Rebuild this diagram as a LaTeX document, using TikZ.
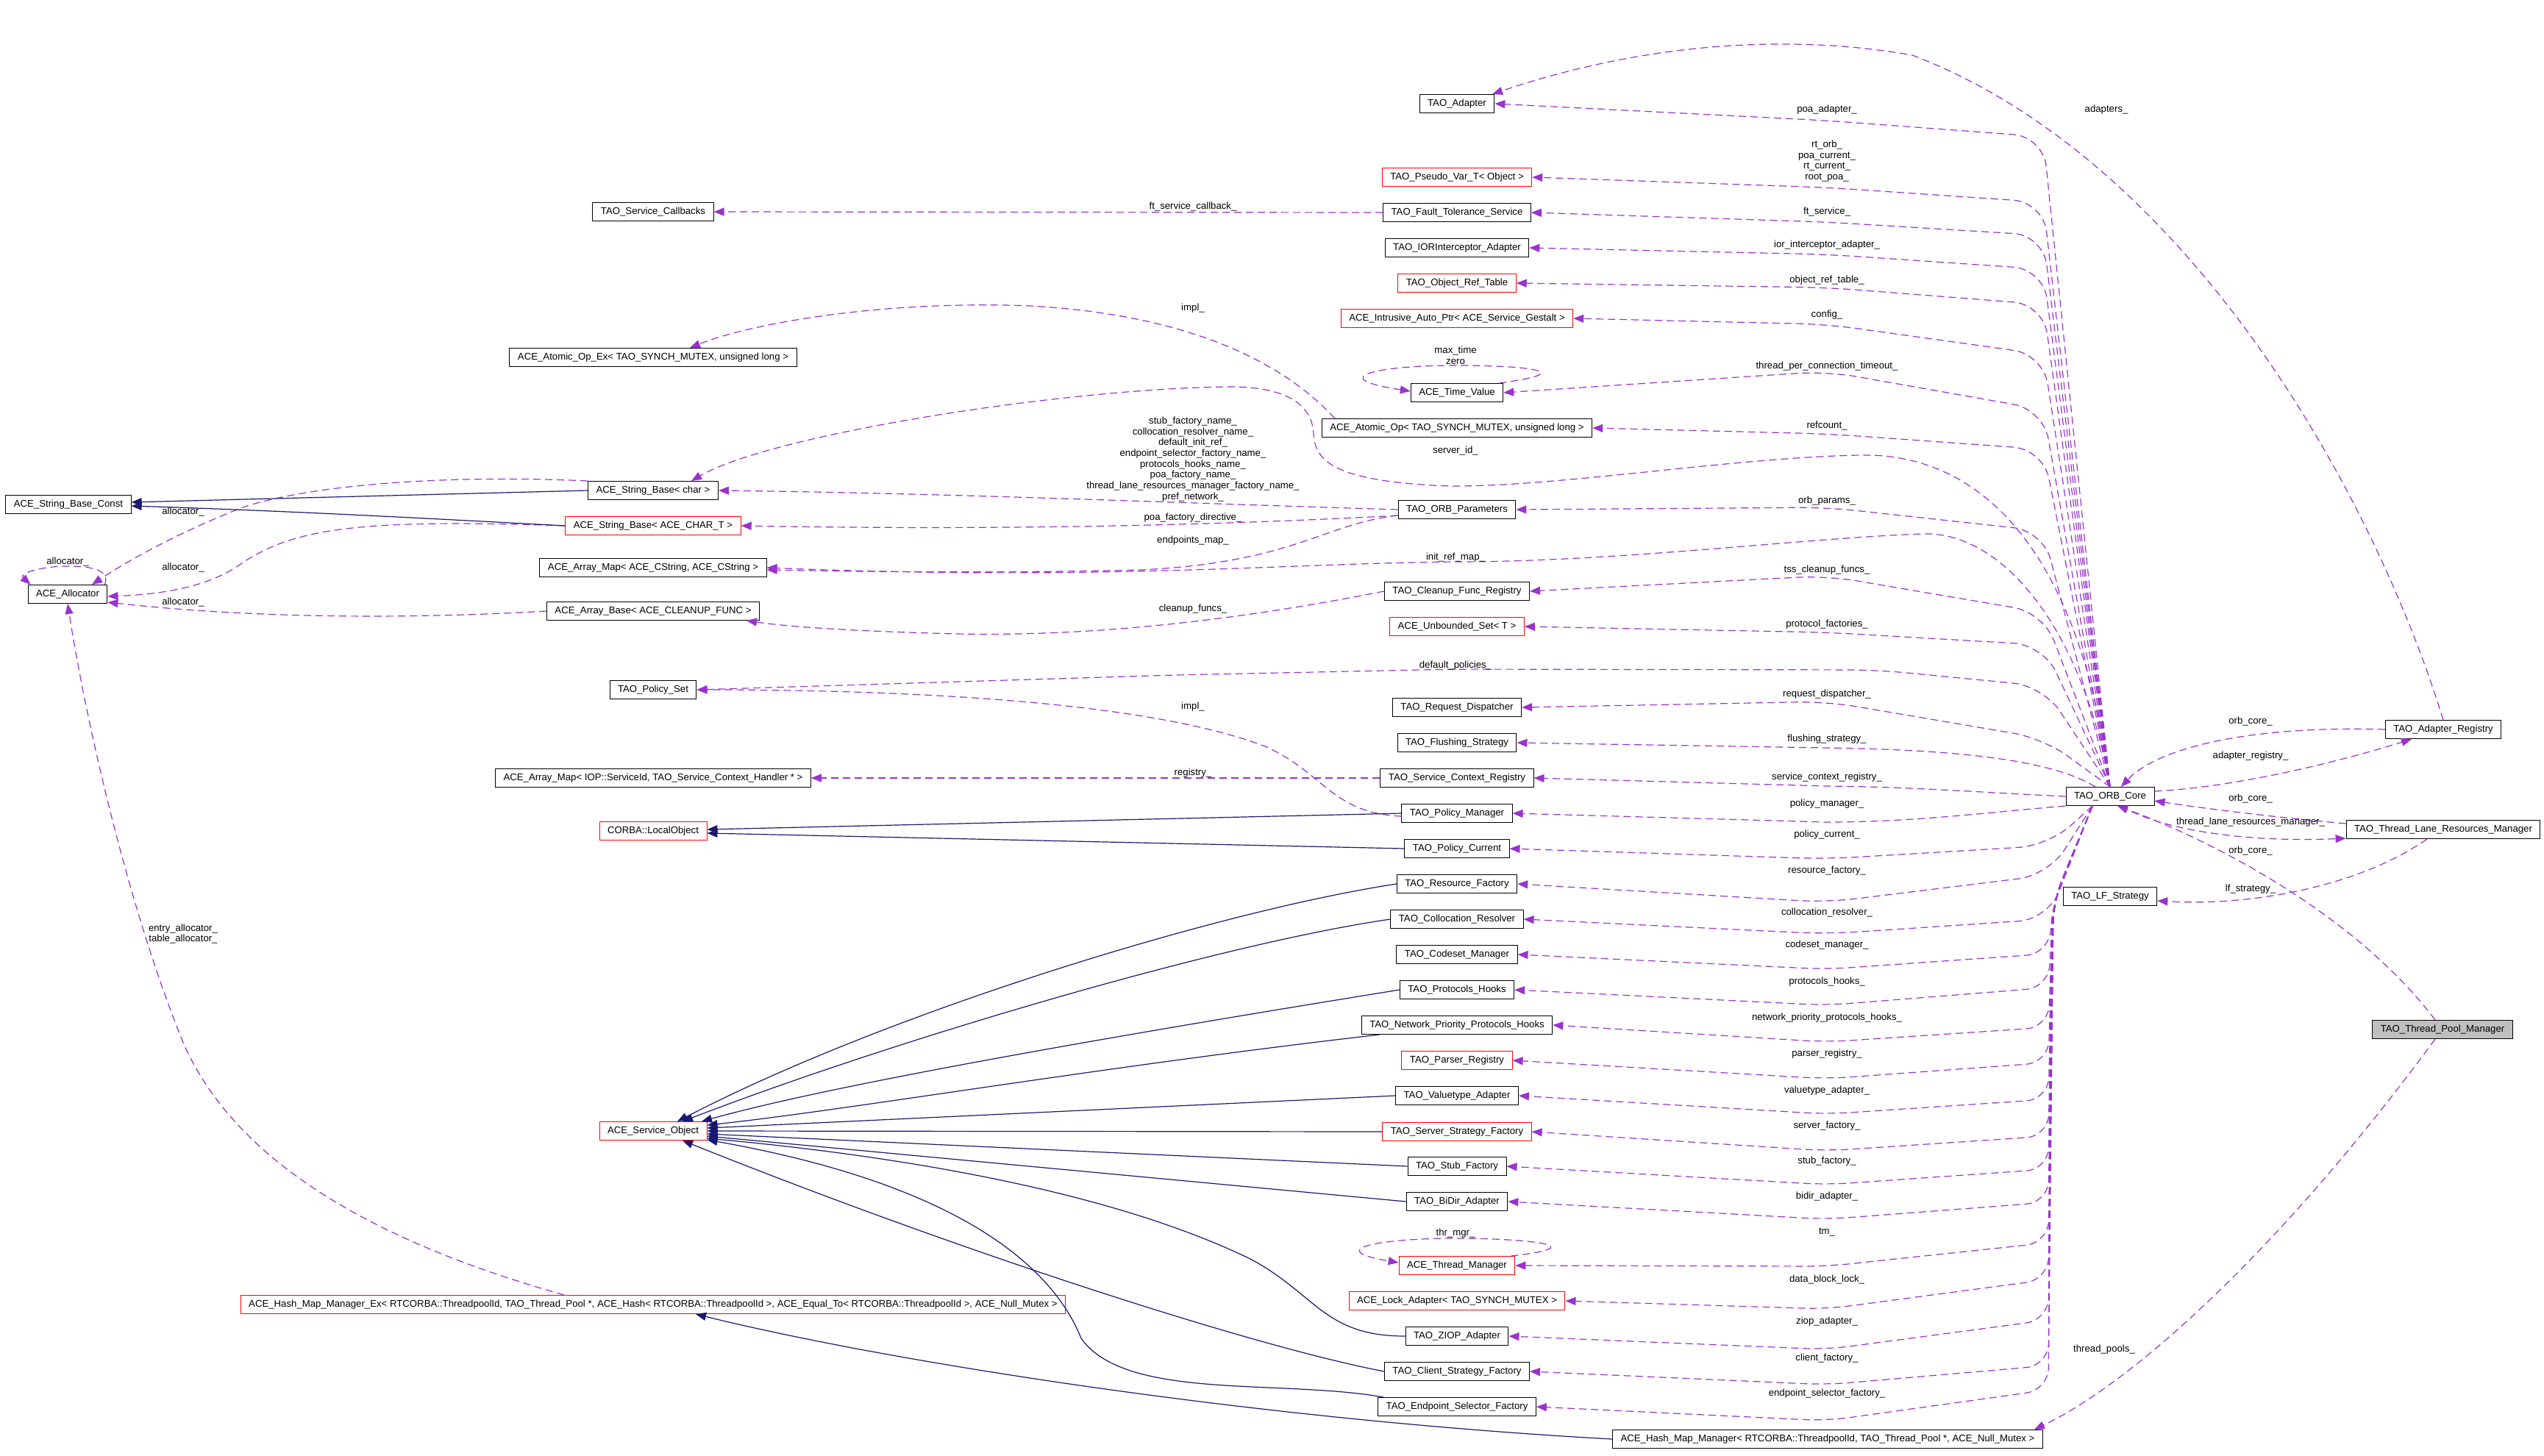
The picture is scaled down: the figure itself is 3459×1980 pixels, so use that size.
\documentclass[tikz,border=0pt]{standalone}
\usepackage{fontspec}
\setmainfont{Liberation Sans}
\usetikzlibrary{arrows.meta}
\definecolor{membcol}{HTML}{9A32CD}
\definecolor{inhcol}{HTML}{191970}
\tikzset{
  cls/.style={draw=black, fill=white, line width=1pt, inner xsep=11pt, inner ysep=0pt,
    minimum height=25pt, font=\fontsize{13.2}{14.7}\selectfont},
  ext/.style={cls, draw=red},
  cur/.style={cls, fill=black!25},
  lab/.style={font=\fontsize{13.2}{14.7}\selectfont, align=center, inner sep=0pt},
  memb/.style={draw=membcol, line width=1.2pt, dash pattern=on 10pt off 6pt,
    -{Triangle[length=14pt,width=11pt]}},
  inh/.style={draw=inhcol, line width=1.2pt, -{Triangle[length=14pt,width=11pt]}}
}
\begin{document}
\begin{tikzpicture}[x=1pt,y=-1pt]
\fill[white] (0,0) rectangle (3459,1980);
\useasboundingbox (0,0) rectangle (3459,1980);
  % Draw far left classes
  \node[cls] (sbconst) at (93,686) {ACE\_String\_Base\_Const};
  \node[cls] (allocator) at (92,808) {ACE\_Allocator};
  % Draw left column
  \node[cls] (callbacks) at (888,288) {TAO\_Service\_Callbacks};
  \node[cls] (atomicopex) at (888,486) {ACE\_Atomic\_Op\_Ex< TAO\_SYNCH\_MUTEX, unsigned long >};
  \node[cls] (sbchar) at (888,667) {ACE\_String\_Base< char >};
  \node[ext] (sbchart) at (888,715) {ACE\_String\_Base< ACE\_CHAR\_T >};
  \node[cls] (arraymap) at (888,772) {ACE\_Array\_Map< ACE\_CString, ACE\_CString >};
  \node[cls] (arraybase) at (888,831) {ACE\_Array\_Base< ACE\_CLEANUP\_FUNC >};
  \node[cls] (policyset) at (888,938) {TAO\_Policy\_Set};
  \node[cls] (arraymapiop) at (888,1058) {ACE\_Array\_Map< IOP::ServiceId, TAO\_Service\_Context\_Handler * >};
  \node[ext] (localobject) at (888,1130) {CORBA::LocalObject};
  \node[ext] (sbo) at (888,1538) {ACE\_Service\_Object};
  \node[ext] (hashmapex) at (888,1774) {ACE\_Hash\_Map\_Manager\_Ex< RTCORBA::ThreadpoolId, TAO\_Thread\_Pool *, ACE\_Hash< RTCORBA::ThreadpoolId >, ACE\_Equal\_To< RTCORBA::ThreadpoolId >, ACE\_Null\_Mutex >};
  % Draw middle column
  \node[cls] (adapter) at (1981,141) {TAO\_Adapter};
  \node[ext] (pseudo) at (1981,241) {TAO\_Pseudo\_Var\_T< Object >};
  \node[cls] (fault) at (1981,289) {TAO\_Fault\_Tolerance\_Service};
  \node[cls] (ior) at (1981,337) {TAO\_IORInterceptor\_Adapter};
  \node[ext] (objref) at (1981,385) {TAO\_Object\_Ref\_Table};
  \node[ext] (intrusive) at (1981,433) {ACE\_Intrusive\_Auto\_Ptr< ACE\_Service\_Gestalt >};
  \node[cls] (timevalue) at (1981,534) {ACE\_Time\_Value};
  \node[cls] (atomicop) at (1981,582) {ACE\_Atomic\_Op< TAO\_SYNCH\_MUTEX, unsigned long >};
  \node[cls] (orbparams) at (1981,693) {TAO\_ORB\_Parameters};
  \node[cls] (cleanup) at (1981,804) {TAO\_Cleanup\_Func\_Registry};
  \node[ext] (unbounded) at (1981,852) {ACE\_Unbounded\_Set< T >};
  \node[cls] (requestdisp) at (1981,962) {TAO\_Request\_Dispatcher};
  \node[cls] (flushing) at (1981,1010) {TAO\_Flushing\_Strategy};
  \node[cls] (scr) at (1981,1058) {TAO\_Service\_Context\_Registry};
  \node[cls] (policymgr) at (1981,1106) {TAO\_Policy\_Manager};
  \node[cls] (policycur) at (1981,1154) {TAO\_Policy\_Current};
  \node[cls] (resource) at (1981,1202) {TAO\_Resource\_Factory};
  \node[cls] (colloc) at (1981,1250) {TAO\_Collocation\_Resolver};
  \node[cls] (codeset) at (1981,1298) {TAO\_Codeset\_Manager};
  \node[cls] (protocols) at (1981,1346) {TAO\_Protocols\_Hooks};
  \node[cls] (network) at (1981,1394) {TAO\_Network\_Priority\_Protocols\_Hooks};
  \node[ext] (parser) at (1981,1442) {TAO\_Parser\_Registry};
  \node[cls] (valuetype) at (1981,1490) {TAO\_Valuetype\_Adapter};
  \node[ext] (server) at (1981,1539) {TAO\_Server\_Strategy\_Factory};
  \node[cls] (stub) at (1981,1586) {TAO\_Stub\_Factory};
  \node[cls] (bidir) at (1981,1634) {TAO\_BiDir\_Adapter};
  \node[ext] (threadmgr) at (1981,1721) {ACE\_Thread\_Manager};
  \node[ext] (lockadapter) at (1981,1769) {ACE\_Lock\_Adapter< TAO\_SYNCH\_MUTEX >};
  \node[cls] (ziop) at (1981,1817) {TAO\_ZIOP\_Adapter};
  \node[cls] (client) at (1981,1865) {TAO\_Client\_Strategy\_Factory};
  \node[cls] (endpoint) at (1981,1913) {TAO\_Endpoint\_Selector\_Factory};
  \node[cls] (hashmap) at (2485,1957) {ACE\_Hash\_Map\_Manager< RTCORBA::ThreadpoolId, TAO\_Thread\_Pool *, ACE\_Null\_Mutex >};
  % Draw right side
  \node[cls] (core) at (2869,1083) {TAO\_ORB\_Core};
  \node[cls] (lf) at (2869,1219) {TAO\_LF\_Strategy};
  \node[cls] (adapterreg) at (3322,992) {TAO\_Adapter\_Registry};
  \node[cls] (tlrm) at (3322,1128) {TAO\_Thread\_Lane\_Resources\_Manager};
  \node[cur] (tpm) at (3321,1400) {TAO\_Thread\_Pool\_Manager};
  % ORB core members, upper half
  \foreach \n/\b/\m in {adapter/186/164, pseudo/275/255, fault/320/302, ior/366/346,
      objref/414/391, intrusive/482/441, timevalue/557/505, atomicop/611/590,
      orbparams/722/690, cleanup/833/783, unbounded/877/860, requestdisp/1004/954}
    \draw[memb, rounded corners=40pt] (core.north) -- (2778,\b) -- (2484,\m) -- (\n.east);
  \draw[memb, rounded corners=40pt] (core.north) -- (2778,933) -- (2552,911) -- (1979,910)
    -- (1596,918) -- (policyset.east);
  \draw[memb] (core.north) .. controls (2830,760) and (2700,615) .. (2529,619)
    .. controls (2350,622) and (2080,668) .. (1947,660)
    .. controls (1820,652) and (1788,630) .. (1786,590)
    .. controls (1784,545) and (1740,526) .. (1673,526)
    .. controls (1450,528) and (1050,590) .. ([xshift=52pt]sbchar.north);
  \draw[memb] (core.north) .. controls (2830,850) and (2720,722) .. (2614,726)
    .. controls (2450,732) and (2200,764) .. (1979,764)
    .. controls (1750,766) and (1500,790) .. (arraymap.east);
  \draw[memb] ([xshift=-20pt]core.north) .. controls (2800,1040) and (2700,1020) .. (2484,1017)
    -- (flushing.east);
  \draw[memb] (core.west) .. controls (2700,1078) and (2600,1070) .. (2484,1069) -- (scr.east);
  \draw[memb] (core.south west) .. controls (2700,1105) and (2600,1118) .. (2484,1118)
    -- (policymgr.east);
  % ORB core members, lower half
  \foreach \n/\b/\m in {policycur/1150/1168, resource/1190/1227, colloc/1250/1270}
    \draw[memb, rounded corners=40pt] ([xshift=-24pt]core.south) -- (2785,\b) -- (2484,\m)
      -- (\n.east);
  \foreach \n/\b/\m in {codeset/1297/1318, protocols/1343/1367, network/1397/1417,
      parser/1445/1467, valuetype/1495/1515, server/1545/1565, stub/1590/1611,
      bidir/1635/1658, threadmgr/1690/1722, lockadapter/1740/1780, ziop/1795/1835,
      client/1857/1883, endpoint/1890/1932}
    \draw[memb, rounded corners=30pt] ([xshift=-24pt]core.south) -- (2792,1225) -- (2785,\b)
      -- (2484,\m) -- (\n.east);
  % Draw ORB core member labels
  \foreach \y/\txt [count=\i] in {149/poa\_adapter\_, 288/ft\_service\_,
      333/ior\_interceptor\_adapter\_, 381/object\_ref\_table\_, 428/config\_,
      498/thread\_per\_connection\_timeout\_, 579/refcount\_, 681/orb\_params\_,
      775/tss\_cleanup\_funcs\_, 849/protocol\_factories\_, 944/request\_dispatcher\_,
      1005/flushing\_strategy\_, 1057/service\_context\_registry\_, 1093/policy\_manager\_,
      1135/policy\_current\_, 1184/resource\_factory\_, 1241/collocation\_resolver\_,
      1285/codeset\_manager\_, 1335/protocols\_hooks\_,
      1384/network\_priority\_protocols\_hooks\_, 1433/parser\_registry\_,
      1483/valuetype\_adapter\_, 1531/server\_factory\_, 1579/stub\_factory\_,
      1627/bidir\_adapter\_, 1676/tm\_, 1740/data\_block\_lock\_, 1797/ziop\_adapter\_,
      1847/client\_factory\_, 1895/endpoint\_selector\_factory\_}
    \node[lab] (cl\i) at (2484,\y) {\txt};
  \node[lab] (clpoa) at (2484,219) {rt\_orb\_\\poa\_current\_\\rt\_current\_\\root\_poa\_};
  \node[lab] (clsid) at (1979,613) {server\_id\_};
  \node[lab] (clinit) at (1979,758) {init\_ref\_map\_};
  \node[lab] (cldef) at (1979,905) {default\_policies\_};
  % Middle column members
  \draw[memb] (fault.west) -- (callbacks.east);
  \draw[memb] (scr.west) -- (arraymapiop.east);
  \draw[memb] ([xshift=18pt]atomicop.north west) .. controls (1770,520) and (1660,430) .. (1400,416)
    .. controls (1200,408) and (1020,440) .. ([xshift=50pt]atomicopex.north);
  \draw[memb] (orbparams.west) .. controls (1600,684) and (1300,671) .. (sbchar.east);
  \draw[memb] ([yshift=-8pt]orbparams.west) .. controls (1700,712) and (1400,722) .. (sbchart.east);
  \draw[memb] ([yshift=-8pt]orbparams.west) .. controls (1800,712) and (1760,765) .. (1550,775)
    .. controls (1350,780) and (1150,777) .. ([yshift=-3pt]arraymap.east);
  \draw[memb] (cleanup.west) .. controls (1700,840) and (1500,866) .. (1300,862)
    .. controls (1150,858) and (1070,852) .. ([xshift=-18pt]arraybase.south east);
  \draw[memb] ([yshift=-4pt]policymgr.west) .. controls (1810,1106) and (1800,1050) .. (1720,1015)
    .. controls (1550,950) and (1200,938) .. (policyset.east);
  \draw[memb] ([xshift=-6pt]timevalue.north east) .. controls (2150,506) and (2080,497) .. (1979,497)
    .. controls (1870,497) and (1800,514) .. ([yshift=2pt]timevalue.west);
  \draw[memb] ([xshift=-6pt]threadmgr.north east) .. controls (2170,1695) and (2080,1684) .. (1979,1684)
    .. controls (1870,1684) and (1800,1700) .. ([yshift=4pt]threadmgr.west);
  \foreach \y/\txt [count=\i] in {281/ft\_service\_callback\_, 419/impl\_,
      704/poa\_factory\_directive\_, 735/endpoints\_map\_, 828/cleanup\_funcs\_,
      961/impl\_, 1051/registry\_}
    \node[lab] (ml\i) at (1622,\y) {\txt};
  \node[lab] (mlnames) at (1622,624.5) {stub\_factory\_name\_\\collocation\_resolver\_name\_\\default\_init\_ref\_\\endpoint\_selector\_factory\_name\_\\protocols\_hooks\_name\_\\poa\_factory\_name\_\\thread\_lane\_resources\_manager\_factory\_name\_\\pref\_network\_};
  \node[lab] (mltime) at (1979,483) {max\_time\\zero};
  \node[lab] (mlthr) at (1979,1677) {thr\_mgr\_};
  % Allocator members
  \draw[memb] ([xshift=-4pt]allocator.north east) .. controls (150,775) and (125,770) .. (92,770)
    .. controls (55,770) and (25,780) .. ([xshift=4pt]allocator.north west);
  \draw[memb] (sbchar.north west) .. controls (600,645) and (420,660) .. (330,690)
    .. controls (240,725) and (170,765) .. ([xshift=33pt]allocator.north);
  \draw[memb] (sbchart.west) .. controls (480,705) and (400,720) .. (330,765)
    .. controls (290,795) and (230,808) .. ([yshift=-3pt]allocator.east);
  \draw[memb] (arraybase.west) .. controls (500,845) and (300,836) .. ([yshift=-11pt]allocator.east);
  \draw[memb] ([xshift=-121pt]hashmapex.north) .. controls (550,1700) and (330,1600) .. (250,1420)
    .. controls (180,1250) and (120,1000) .. (allocator.south);
  \foreach \y/\txt [count=\i] in {696/allocator\_, 772/allocator\_, 819/allocator\_}
    \node[lab] (al\i) at (249,\y) {\txt};
  \node[lab] (alself) at (92,764) {allocator\_};
  \node[lab] (alhash) at (249,1270) {entry\_allocator\_\\table\_allocator\_};
  % Draw inheritance
  \draw[inh] (sbchar.west) -- ([yshift=3pt]sbconst.east);
  \draw[inh] (sbchart.west) .. controls (600,706) and (400,695) .. ([yshift=-2pt]sbconst.east);
  \draw[inh] (policymgr.west) -- ([yshift=2pt]localobject.east);
  \draw[inh] (policycur.west) -- ([yshift=-3pt]localobject.east);
  \draw[inh] (resource.west) .. controls (1650,1240) and (1200,1380) .. ([xshift=33pt]sbo.north);
  \draw[inh] (colloc.west) .. controls (1650,1285) and (1200,1420) .. ([xshift=40pt]sbo.north);
  \draw[inh] (protocols.west) .. controls (1600,1395) and (1150,1470) .. ([xshift=66pt]sbo.north);
  \draw[inh] ([xshift=25pt]network.south west) .. controls (1500,1450) and (1150,1510) .. ([yshift=8pt]sbo.east);
  \draw[inh] (valuetype.west) -- ([yshift=4pt]sbo.east);
  \draw[inh] (server.west) -- (sbo.east);
  \draw[inh] (stub.west) -- ([yshift=-4pt]sbo.east);
  \draw[inh] (bidir.west) -- ([yshift=-7pt]sbo.east);
  \draw[inh] (ziop.west) .. controls (1800,1817) and (1790,1760) .. (1700,1712)
    .. controls (1500,1615) and (1200,1570) .. ([yshift=-10pt]sbo.east);
  \draw[inh] ([xshift=8pt]endpoint.north west) .. controls (1740,1875) and (1530,1905) .. (1470,1820)
    .. controls (1430,1720) and (1300,1610) .. ([yshift=-12pt]sbo.east);
  \draw[inh] (client.west) .. controls (1700,1830) and (1300,1700) .. ([xshift=40pt]sbo.south);
  \draw[inh] (hashmap.west) .. controls (1700,1930) and (1200,1850) .. ([xshift=58pt]hashmapex.south);
  % Right side members
  \draw[memb] (adapterreg.north) .. controls (3230,680) and (2980,220) .. (2600,75)
    .. controls (2400,40) and (2200,70) .. ([xshift=48pt]adapter.north);
  \draw[memb] (adapterreg.west) .. controls (3050,986) and (2930,1020) .. ([xshift=15pt]core.north);
  \draw[memb] ([yshift=7pt]core.east) .. controls (3050,1070) and (3200,1030) .. ([xshift=-43pt]adapterreg.south);
  \draw[memb] ([yshift=8pt]tlrm.west) .. controls (3100,1112) and (3000,1100) .. ([yshift=-6pt]core.east);
  \draw[memb] ([xshift=15pt]core.south) .. controls (2950,1135) and (3080,1145) .. ([yshift=1pt]tlrm.south west);
  \draw[memb] ([xshift=-10pt]tpm.north) .. controls (3200,1240) and (3000,1140) .. ([xshift=10pt]core.south);
  \draw[memb] ([xshift=-22pt]tlrm.south) .. controls (3200,1210) and (3050,1232) .. ([yshift=-6pt]lf.east);
  \draw[memb] ([xshift=-10pt]tpm.south) .. controls (3100,1700) and (2900,1880) .. ([xshift=281pt]hashmap.north);
  \node[lab] (rladapters) at (2864,149) {adapters\_};
  \foreach \y/\txt [count=\i] in {981/orb\_core\_, 1028/adapter\_registry\_, 1086/orb\_core\_,
      1118/thread\_lane\_resources\_manager\_, 1157/orb\_core\_, 1209/lf\_strategy\_}
    \node[lab] (rl\i) at (3060,\y) {\txt};
  \node[lab] (rlpools) at (2861,1835) {thread\_pools\_};
\end{tikzpicture}
\end{document}
